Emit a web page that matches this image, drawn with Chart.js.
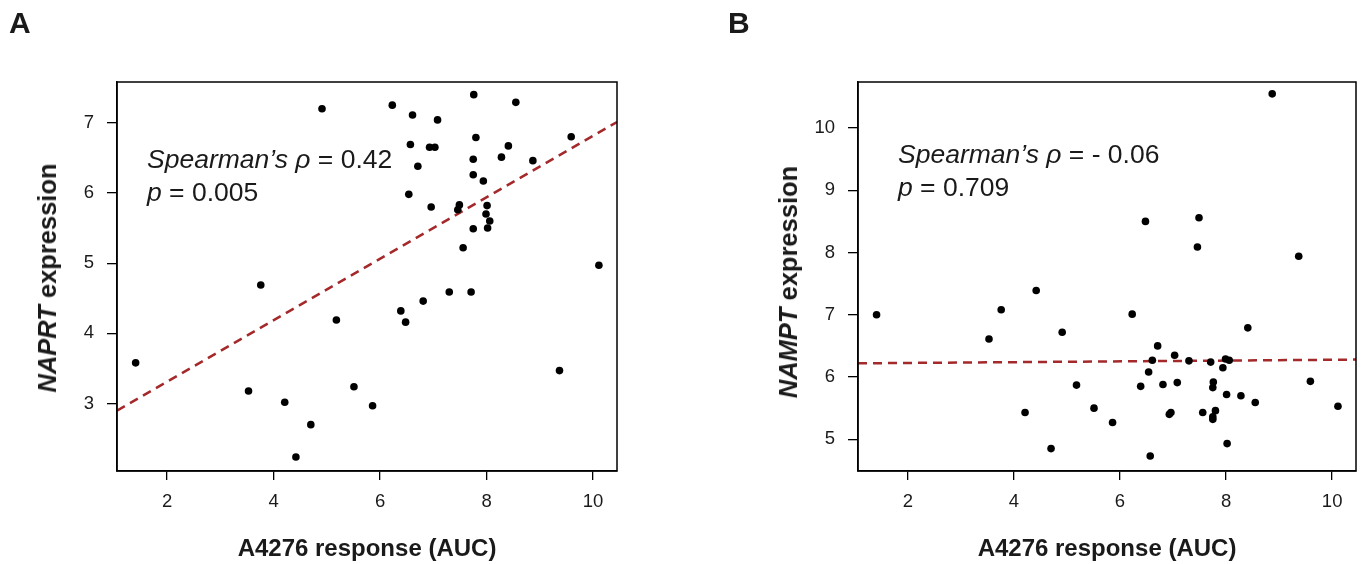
<!DOCTYPE html>
<html><head><meta charset="utf-8">
<script src="https://cdn.jsdelivr.net/npm/chart.js@4.4.1/dist/chart.umd.min.js"></script>
<style>
html,body{margin:0;padding:0;background:#fff;}
#wrap{position:relative;width:1362px;height:564px;overflow:hidden;font-family:"Liberation Sans",Arial,sans-serif;color:#1a1a1a;}
canvas{position:absolute;top:0;}
.lbl{position:absolute;font-weight:bold;font-size:30px;line-height:30px;}
.stat{position:absolute;font-size:26.5px;line-height:33px;white-space:nowrap;}
.ytitle{position:absolute;font-weight:bold;font-size:25.5px;line-height:26px;white-space:nowrap;transform:translate(-50%,-50%) rotate(-90deg);}
</style></head>
<body>
<div id="wrap">
  <canvas id="cA" width="681" height="564" style="left:0"></canvas>
  <canvas id="cB" width="681" height="564" style="left:681px"></canvas>
  <div class="lbl" style="left:9px;top:8px">A</div>
  <div class="lbl" style="left:728px;top:8px">B</div>
  <div class="stat" style="left:147px;top:143px"><i>Spearman’s ρ</i> = 0.42<br><i>p</i> = 0.005</div>
  <div class="stat" style="left:898px;top:138px"><i>Spearman’s ρ</i> = - 0.06<br><i>p</i> = 0.709</div>
  <div class="ytitle" style="left:47px;top:278px"><i>NAPRT</i> expression</div>
  <div class="ytitle" style="left:788px;top:282px"><i>NAMPT</i> expression</div>
</div>
<script>
// A4276 response (AUC), shared by both panels
const aucX = [1.41, 3.53, 3.76, 4.21, 4.42, 4.70, 4.91, 5.18, 5.51, 5.86, 6.23, 6.39, 6.48, 6.54, 6.57, 6.61, 6.71, 6.81, 6.93, 6.96, 7.03, 7.08, 7.30, 7.46, 7.49, 7.56, 7.71, 7.75, 7.75, 7.75, 7.76, 7.80, 7.94, 7.99, 8.01, 8.02, 8.06, 8.28, 8.41, 8.55, 8.87, 9.37, 9.59, 10.11];
// NAPRT expression (panel A)
const naprt = [3.58, 3.18, 4.69, 3.02, 2.24, 2.70, 7.20, 4.19, 3.24, 2.97, 7.25, 4.32, 4.16, 5.98, 6.69, 7.11, 6.38, 4.46, 6.65, 5.80, 6.65, 7.04, 4.59, 5.76, 5.83, 5.22, 4.59, 6.48, 6.26, 5.49, 7.40, 6.79, 6.17, 5.70, 5.82, 5.50, 5.60, 6.51, 6.67, 7.29, 6.46, 3.47, 6.80, 4.97];
// NAMPT expression (panel B)
const nampt = [7.00, 6.61, 7.08, 5.43, 7.39, 4.85, 6.72, 5.87, 5.50, 5.27, 7.01, 5.85, 8.50, 6.08, 4.73, 6.27, 6.50, 5.88, 5.40, 5.43, 6.35, 5.91, 6.26, 8.09, 8.56, 5.43, 6.24, 5.83, 5.36, 5.32, 5.92, 5.46, 6.15, 6.29, 5.72, 4.93, 6.27, 5.70, 6.79, 5.59, 10.55, 7.94, 5.93, 5.53];
// fitted lines (read at plot edges)
const trendX = [1.06, 10.45];
const trendA = [2.90, 7.01];
const trendB = [6.22, 6.28];
// ticks
const xTicks = [2, 4, 6, 8, 10];
const yTicksA = [3, 4, 5, 6, 7];
const yTicksB = [5, 6, 7, 8, 9, 10];
// axis ranges
const xRange = [1.06, 10.45];
const yRangeA = [2.04, 7.58];
const yRangeB = [4.49, 10.74];

const FAM = '"Liberation Sans", Arial, sans-serif';
const INK = '#1a1a1a';

const frame = {
  id: 'frame',
  afterDraw(chart) {
    const a = chart.chartArea, c = chart.ctx;
    c.save();
    c.strokeStyle = '#000';
    c.lineWidth = 1.5;
    c.strokeRect(a.left, a.top, a.right - a.left, a.bottom - a.top);
    c.restore();
  }
};

function makeChart(id, yVals, trendY, yTicks, yRange, yWidth, padRight) {
  return new Chart(document.getElementById(id), {
    type: 'scatter',
    data: {
      datasets: [
        {
          data: aucX.map((x, i) => ({ x: x, y: yVals[i] })),
          backgroundColor: '#000', borderColor: '#000', borderWidth: 0,
          pointRadius: 3.8, pointHoverRadius: 3.8, order: 1
        },
        {
          type: 'line',
          data: trendX.map((x, i) => ({ x: x, y: trendY[i] })),
          borderColor: '#a3292b', borderWidth: 2.5, borderDash: [9, 6],
          pointRadius: 0, fill: false, tension: 0, order: 2
        }
      ]
    },
    options: {
      responsive: false, animation: false, events: [],
      layout: { padding: { top: 82, right: padRight, left: 0, bottom: 0 } },
      plugins: { legend: { display: false }, tooltip: { enabled: false } },
      scales: {
        x: {
          type: 'linear', min: xRange[0], max: xRange[1],
          afterBuildTicks: s => { s.ticks = xTicks.map(v => ({ value: v })); },
          afterFit: s => { s.height = 93; },
          ticks: { font: { size: 18.5, family: FAM }, color: INK, padding: 11, maxRotation: 0 },
          grid: { drawOnChartArea: false, drawTicks: true, tickLength: 9, color: '#000', lineWidth: 1.3 },
          border: { display: true, color: '#000', width: 1.5 },
          title: { display: true, text: 'A4276 response (AUC)', color: INK,
                   font: { size: 24, weight: 'bold', family: FAM }, padding: { top: 0, bottom: 0 } }
        },
        y: {
          type: 'linear', min: yRange[0], max: yRange[1],
          afterBuildTicks: s => { s.ticks = yTicks.map(v => ({ value: v })); },
          afterFit: s => { s.width = yWidth; },
          ticks: { font: { size: 18.5, family: FAM }, color: INK, padding: 13 },
          grid: { drawOnChartArea: false, drawTicks: true, tickLength: 10, color: '#000', lineWidth: 1.3 },
          border: { display: true, color: '#000', width: 1.5 }
        }
      }
    },
    plugins: [frame]
  });
}

makeChart('cA', naprt, trendA, yTicksA, yRangeA, 117, 64);
makeChart('cB', nampt, trendB, yTicksB, yRangeB, 177, 6);
</script>
</body></html>
